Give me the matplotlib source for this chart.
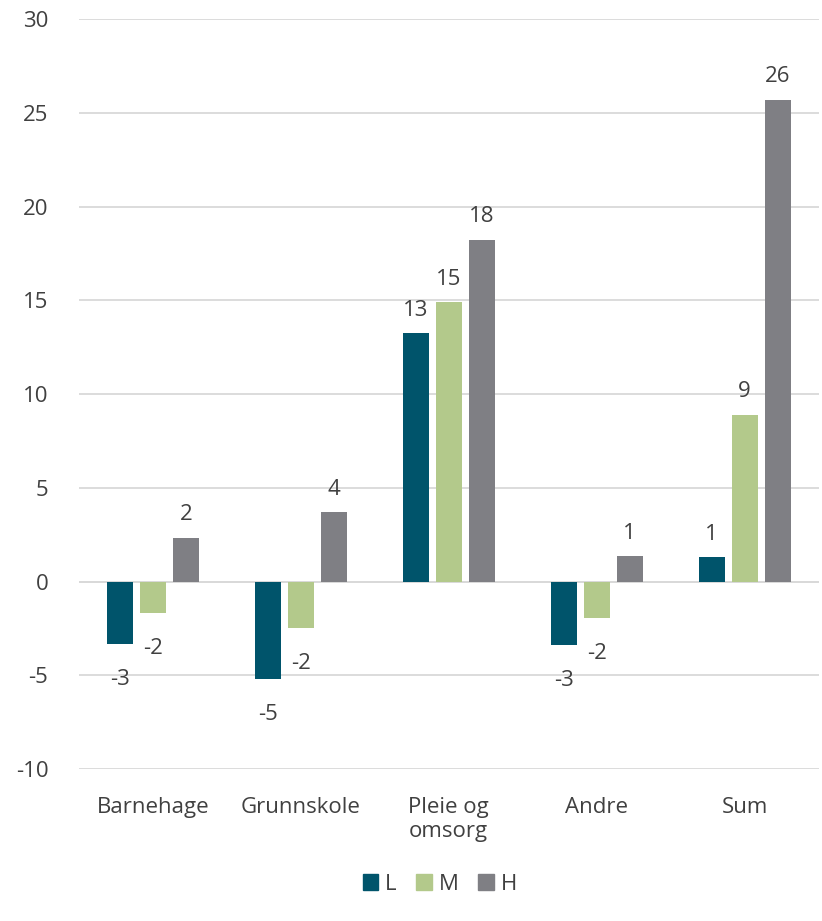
import numpy as np
import matplotlib.pyplot as plt
from matplotlib.patches import Patch

plt.rcParams['font.family'] = ['Open Sans', 'DejaVu Sans']
plt.rcParams['axes.unicode_minus'] = False

categories = ['Barnehage', 'Grunnskole', 'Pleie og\nomsorg', 'Andre', 'Sum']
series = ['L', 'M', 'H']
vals_L = [-3.35, -5.2, 13.25, -3.4, 1.3]
vals_M = [-1.65, -2.45, 14.9, -1.95, 8.9]
vals_H = [2.35, 3.7, 18.25, 1.35, 25.7]
colors = ['#00546b', '#b3c98b', '#7f7f84']
txt = '#404040'

fig = plt.figure(figsize=(8.22, 9.21), dpi=100)
ax = fig.add_axes([0.096, 0.165, 0.9, 0.814])

x = np.arange(len(categories))
w = 0.176
step = 0.223
for i, (vals, c) in enumerate(zip([vals_L, vals_M, vals_H], colors)):
	pos = x + (i - 1) * step
	ax.bar(pos, vals, width=w, color=c, zorder=3)
	for px, v in zip(pos, vals):
		lab = '{:.0f}'.format(v)
		if v >= 0:
			ax.annotate(lab, (px, v), xytext=(0, 9), textcoords='offset points',
				ha='center', va='bottom', fontsize=16, color=txt)
		else:
			ax.annotate(lab, (px, v), xytext=(0, -18), textcoords='offset points',
				ha='center', va='top', fontsize=16, color=txt)

ax.set_ylim(-10, 30)
ax.set_xlim(-0.5, len(categories) - 0.5)
ax.set_yticks(np.arange(-10, 31, 5))
ax.yaxis.grid(True, color='#d9d9d9', linewidth=1.3, zorder=0)
ax.set_xticks(x)
ax.set_xticklabels(categories, fontsize=16, color=txt)
ax.tick_params(axis='y', labelsize=16, colors=txt, length=0, pad=22)
ax.tick_params(axis='x', length=0, pad=20)
for s in ax.spines.values():
	s.set_visible(False)
ax.axhline(0, color='#d9d9d9', linewidth=1.3, zorder=2)

handles = [Patch(color=c, label=s) for s, c in zip(series, colors)]
fig.legend(handles=handles, loc='center', bbox_to_anchor=(0.535, 0.04), ncol=3,
	frameon=False, fontsize=16, handlelength=0.7, handleheight=0.7,
	handletextpad=0.3, columnspacing=0.9, labelcolor=txt)

fig.savefig('out.png', dpi=100)
